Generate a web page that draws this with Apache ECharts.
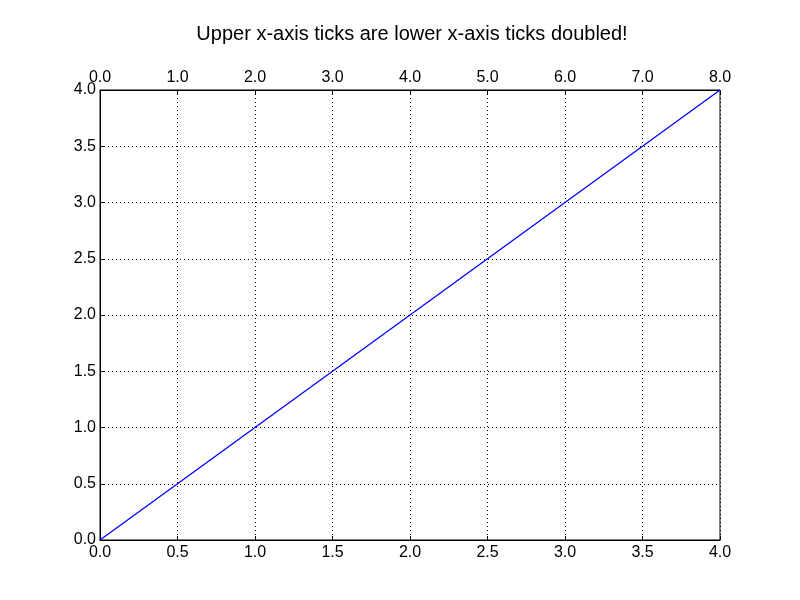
<!DOCTYPE html>
<html>
<head>
<meta charset="utf-8">
<script src="https://cdn.jsdelivr.net/npm/echarts@6/dist/echarts.min.js"></script>
<style>html,body{margin:0;padding:0;background:#fff;}#c{width:800px;height:600px;}</style>
</head>
<body>
<div id="c"></div>
<script>
var xValues = [0, 1, 2, 3, 4];
var yValues = [0, 1, 2, 3, 4];
var titleText = 'Upper x-axis ticks are lower x-axis ticks doubled!';

var chart = echarts.init(document.getElementById('c'), null, {renderer: 'canvas'});
var font = 'Liberation Sans, Arial, sans-serif';
var fmt = function (v) { return Number(v).toFixed(1); };
var gridLine = {show: true, lineStyle: {color: '#000', type: [1, 3], width: 1}};
chart.setOption({
  animation: false,
  backgroundColor: '#fff',
  title: {text: titleText, left: 407, textAlign: 'center', top: 19, textStyle: {fontFamily: font, fontSize: 20, fontWeight: 'normal', color: '#000'}},
  grid: {left: 100, right: 80, top: 90, bottom: 60, show: true, borderColor: '#000', borderWidth: 1, containLabel: false},
  xAxis: [
    {type: 'value', position: 'bottom', min: 0, max: 4, interval: 0.5,
     axisLine: {show: true, onZero: false, lineStyle: {color: '#000'}},
     axisTick: {show: true, inside: true, length: 4, lineStyle: {color: '#000'}},
     axisLabel: {formatter: fmt, color: '#000', fontFamily: font, fontSize: 16, margin: 5},
     splitLine: gridLine},
    {type: 'value', position: 'top', min: 0, max: 8, interval: 1,
     axisLine: {show: true, onZero: false, lineStyle: {color: '#000'}},
     axisTick: {show: true, inside: true, length: 4, lineStyle: {color: '#000'}},
     axisLabel: {formatter: fmt, color: '#000', fontFamily: font, fontSize: 16, margin: 4},
     splitLine: {show: false}}
  ],
  yAxis: {type: 'value', min: 0, max: 4, interval: 0.5,
     axisLine: {show: true, onZero: false, lineStyle: {color: '#000'}},
     axisTick: {show: true, inside: true, length: 4, lineStyle: {color: '#000'}},
     axisLabel: {formatter: fmt, color: '#000', fontFamily: font, fontSize: 16, margin: 4},
     splitLine: gridLine},
  series: [{
    type: 'line', xAxisIndex: 0, yAxisIndex: 0,
    data: xValues.map(function (x, i) { return [x, yValues[i]]; }),
    showSymbol: false, symbol: 'none',
    lineStyle: {color: '#0000ff', width: 1.3}
  }]
});
</script>
</body>
</html>
